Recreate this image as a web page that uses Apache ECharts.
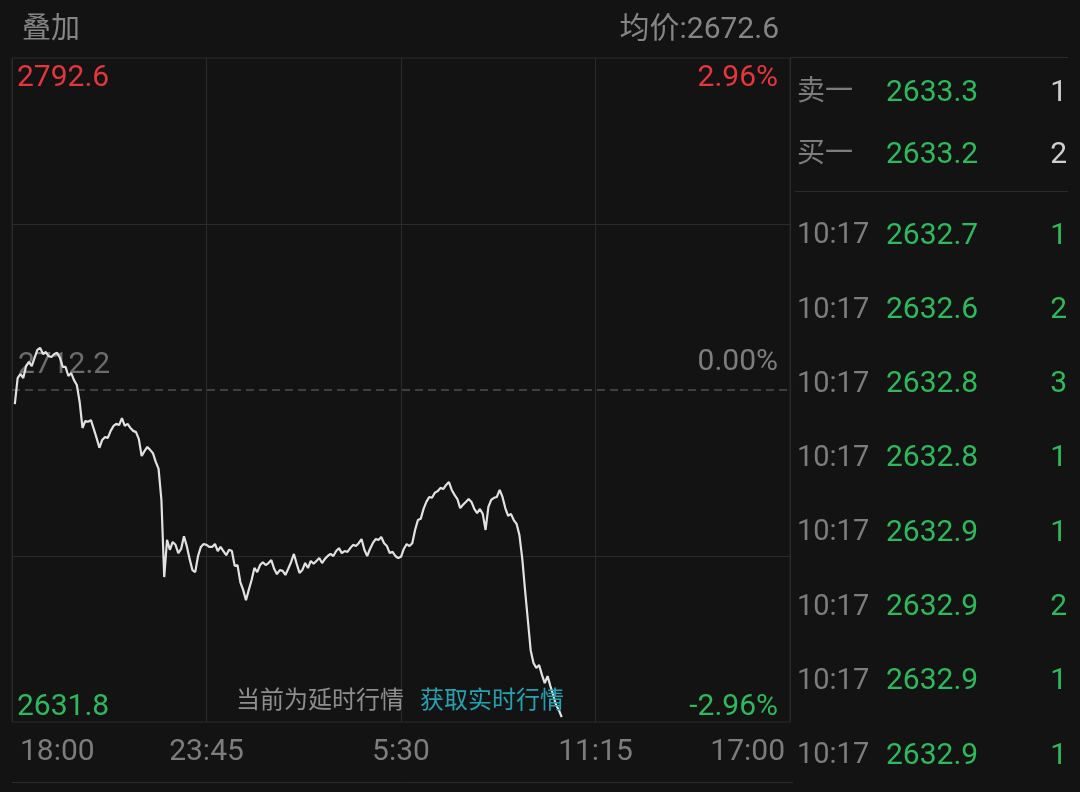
<!DOCTYPE html>
<html>
<head>
<meta charset="utf-8">
<script src="https://cdn.jsdelivr.net/npm/echarts@6/dist/echarts.min.js"></script>
<style>
html,body{margin:0;padding:0;background:#131313;}
#chart{width:1080px;height:792px;}
</style>
</head>
<body>
<div id="chart"></div>
<script>
// ---------- data ----------
const sessionOpen = '18:00';            // session start
const sessionLengthMin = 1380;          // 18:00 -> 17:00 next day
const axisStepMin = 345;                // 18:00, 23:45, 5:30, 11:15, 17:00
const sampleStepMin = 5;                // one price sample every 5 minutes
const basePrice = 2712.2;               // reference (previous close)
const priceHigh = 2792.6;
const priceLow = 2631.8;
const avgPrice = '2672.6';

// intraday prices (18:05 ... 10:15)
const prices = [
  2708.8, 2715.1, 2716.1, 2715.1, 2718.0, 2719.0, 2718.0, 2720.0, 2721.9, 2722.4,
  2720.9, 2721.4, 2720.4, 2720.2, 2720.9, 2721.2, 2720.0, 2717.8, 2717.8, 2715.6,
  2716.3, 2714.6, 2713.4, 2709.3, 2703.0, 2704.7, 2704.5, 2704.9, 2702.8, 2700.6,
  2698.2, 2700.1, 2700.8, 2700.6, 2702.3, 2703.5, 2704.0, 2703.7, 2705.4, 2703.5,
  2704.0, 2703.0, 2702.3, 2702.0, 2700.3, 2696.2, 2697.4, 2698.4, 2697.7, 2696.9,
  2694.8, 2693.1, 2685.6, 2666.9, 2675.9, 2673.5, 2675.4, 2674.7, 2672.7, 2673.7,
  2676.8, 2674.4, 2671.3, 2668.6, 2668.1, 2672.0, 2674.2, 2674.9, 2674.7, 2674.2,
  2674.2, 2674.9, 2673.2, 2674.2, 2673.2, 2672.2, 2673.5, 2673.2, 2669.6, 2669.8,
  2665.7, 2663.8, 2661.3, 2663.8, 2666.2, 2669.1, 2668.1, 2669.8, 2670.5, 2669.8,
  2670.3, 2671.0, 2668.9, 2667.6, 2668.6, 2668.4, 2667.4, 2668.9, 2670.5, 2672.5,
  2670.1, 2667.9, 2668.6, 2670.3, 2669.1, 2670.8, 2670.1, 2670.8, 2671.5, 2670.3,
  2671.3, 2672.0, 2672.5, 2672.0, 2673.2, 2673.9, 2672.7, 2673.2, 2673.0, 2673.9,
  2674.7, 2674.4, 2675.1, 2676.1, 2673.5, 2672.0, 2673.7, 2675.1, 2676.1, 2675.9,
  2676.6, 2675.1, 2674.4, 2672.7, 2673.0, 2672.0, 2671.5, 2671.8, 2673.7, 2674.9,
  2674.4, 2675.1, 2678.3, 2680.7, 2681.0, 2683.4, 2685.1, 2686.3, 2686.1, 2687.3,
  2687.7, 2688.5, 2688.2, 2689.2, 2689.9, 2688.0, 2686.8, 2685.8, 2683.6, 2684.4,
  2685.1, 2685.8, 2685.1, 2683.4, 2682.4, 2683.4, 2682.2, 2678.3, 2683.9, 2685.6,
  2686.1, 2686.3, 2688.0, 2686.3, 2683.6, 2681.7, 2682.2, 2680.7, 2679.8, 2677.1,
  2671.5, 2663.8, 2656.5, 2649.2, 2646.1, 2644.9, 2645.6, 2643.2, 2641.2, 2642.9,
  2640.5, 2638.3, 2635.9, 2634.7, 2633.0
];

// order book
const quoteLabels = ['卖一', '买一'];
const quotePrices = ['2633.3', '2633.2'];
const quoteVolumes = ['1', '2'];

// trade ticks
const tradeTimes = ['10:17', '10:17', '10:17', '10:17', '10:17', '10:17', '10:17', '10:17'];
const tradePrices = ['2632.7', '2632.6', '2632.8', '2632.8', '2632.9', '2632.9', '2632.9', '2632.9'];
const tradeVolumes = ['1', '2', '3', '1', '1', '2', '1', '1'];

const delayNote = '当前为延时行情';
const delayLink = '获取实时行情';
const overlayTitle = '叠加';
const avgLabel = '均价:';

// ---------- styles ----------
const BG = '#131313';
const LINE = '#2b2b2b';
const RED = '#e5363c';
const GREEN = '#2cba5c';
const GRAY = '#7d7d7d';
const CYAN = '#23a2b4';
const CLEAR = 'rgba(0,0,0,0)';
const FONT = 'Roboto, "Noto Sans CJK SC", sans-serif';

const startParts = sessionOpen.split(':').map(Number);
const startMinutes = startParts[0] * 60 + startParts[1];
function fmtTime(offset) {
  const t = (startMinutes + offset) % 1440;
  const h = Math.floor(t / 60), m = t % 60;
  return h + ':' + (m < 10 ? '0' : '') + m;
}
function pct(v) {
  return ((v - basePrice) / basePrice * 100).toFixed(2) + '%';
}

const lineData = prices.map((p, i) => [(i + 1) * sampleStepMin, p]);

const GL = 12, GR = 790, GT = 58, GB = 722;

const graphics = [];
function txt(x, y, text, color, size, align) {
  graphics.push({
    type: 'text', silent: true, z: 10,
    style: { x: x, y: y, text: text, fill: color, fontSize: size, fontFamily: FONT,
             align: align || 'left', verticalAlign: 'middle' }
  });
}
function hline(x1, x2, y, color) {
  graphics.push({ type: 'line', silent: true, z: 1,
    shape: { x1: x1, y1: y, x2: x2, y2: y }, style: { stroke: color, lineWidth: 1 } });
}

txt(22, 31, overlayTitle, '#858585', 29);
txt(779, 30, avgLabel + avgPrice, '#858585', 30, 'right');

hline(790, 1068, 57.5, LINE);
hline(795, 1068, 191.5, LINE);
hline(12, 793, 782.5, LINE);

const quoteY = [93, 155];
quoteLabels.forEach((l, i) => {
  txt(797, quoteY[i], l, GRAY, 28);
  txt(886, quoteY[i], quotePrices[i], GREEN, 30);
  txt(1067, quoteY[i], quoteVolumes[i], '#cfcfcf', 30, 'right');
});
tradeTimes.forEach((t, i) => {
  const y = 236 + i * 74.3;
  txt(797, y, t, GRAY, 29);
  txt(886, y, tradePrices[i], GREEN, 30);
  txt(1067, y, tradeVolumes[i], GREEN, 30, 'right');
});

txt(236, 702, delayNote, '#8e8e8e', 24);
txt(420, 702, delayLink, CYAN, 24);

const q1 = priceLow + (priceHigh - priceLow) * 0.25;
const q3 = priceLow + (priceHigh - priceLow) * 0.75;

function edgeLabel(value, position, dist, text, color) {
  return {
    yAxis: value,
    lineStyle: { color: CLEAR, width: 0 },
    label: { show: true, position: position, distance: dist, formatter: text, opacity: 1,
             color: color, fontSize: 30, fontFamily: FONT }
  };
}

const chart = echarts.init(document.getElementById('chart'), null, { renderer: 'canvas' });
chart.setOption({
  backgroundColor: BG,
  animation: false,
  grid: { left: GL, right: 1080 - GR, top: GT, bottom: 792 - GB, show: true,
          borderColor: LINE, borderWidth: 1, backgroundColor: 'transparent' },
  xAxis: {
    type: 'value', min: 0, max: sessionLengthMin, interval: axisStepMin,
    axisLine: { show: false }, axisTick: { show: false },
    splitLine: { show: true, lineStyle: { color: LINE, width: 1 } },
    axisLabel: {
      color: GRAY, fontSize: 30, fontFamily: FONT, margin: 15,
      alignMinLabel: 'left', alignMaxLabel: 'right',
      formatter: function (v) {
        const s = fmtTime(v);
        if (v === 0) return '{first|' + s + '}';
        if (v === sessionLengthMin) return '{last|' + s + '}';
        return s;
      },
      rich: {
        first: { color: GRAY, fontSize: 30, fontFamily: FONT, padding: [0, 0, 0, 8] },
        last: { color: GRAY, fontSize: 30, fontFamily: FONT, padding: [0, 5, 0, 0] }
      }
    }
  },
  yAxis: {
    type: 'value', min: priceLow, max: priceHigh,
    axisLine: { show: false }, axisTick: { show: false },
    axisLabel: { show: false }, splitLine: { show: false }
  },
  series: [{
    type: 'line',
    data: lineData,
    showSymbol: false,
    symbol: 'none',
    z: 3,
    lineStyle: { color: '#e2e2e2', width: 2.2 },
    markLine: {
      silent: true, symbol: ['none', 'none'], z: 1, animation: false,
      label: { show: false },
      emphasis: { disabled: true },
      data: [
        { yAxis: q3, lineStyle: { color: LINE, type: 'solid', width: 1 } },
        { yAxis: q1, lineStyle: { color: LINE, type: 'solid', width: 1 } },
        { yAxis: basePrice, lineStyle: { color: '#505050', type: [8, 5], width: 1.5 },
          label: { show: true, position: 'insideStartTop', distance: [6, 10], formatter: basePrice.toFixed(1),
                   color: '#6c6c6c', fontSize: 30, fontFamily: FONT } },
        edgeLabel(basePrice, 'insideEndTop', [12, 13], pct(basePrice), GRAY),
        edgeLabel(priceHigh, 'insideStartBottom', [5, 6], priceHigh.toFixed(1), RED),
        edgeLabel(priceHigh, 'insideEndBottom', [12, 6], pct(priceHigh), RED),
        edgeLabel(priceLow, 'insideStartTop', [5, 0], priceLow.toFixed(1), GREEN),
        edgeLabel(priceLow, 'insideEndTop', [12, 0], pct(priceLow), GREEN)
      ]
    }
  }],
  graphic: { elements: graphics }
});
</script>
</body>
</html>
